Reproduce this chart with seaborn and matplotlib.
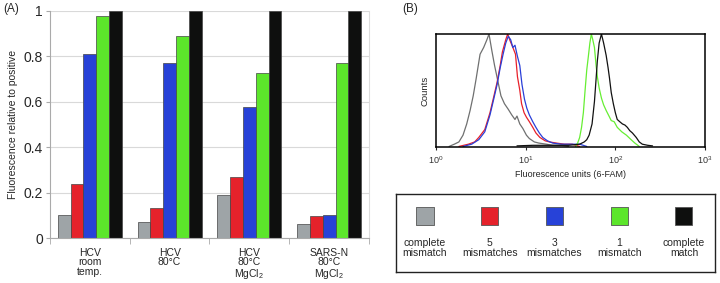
import pandas as pd
import seaborn as sns
import matplotlib.pyplot as plt

# datos del panel A
conditions = ['HCV\nroom\ntemp.', 'HCV\n80°C', 'HCV\n80°C\nMgCl$_2$', 'SARS-N\n80°C\nMgCl$_2$']
probes = ['complete\nmismatch', '5\nmismatches', '3\nmismatches', '1\nmismatch', 'complete\nmatch']
colors = ['#9ea4a7', '#e5222b', '#2742d8', '#5ce62b', '#0e0f0e']
complete_mismatch = [0.10, 0.07, 0.19, 0.06]
mismatches_5 = [0.24, 0.13, 0.27, 0.095]
mismatches_3 = [0.81, 0.77, 0.575, 0.10]
mismatch_1 = [0.98, 0.89, 0.725, 0.77]
complete_match = [1.0, 1.0, 1.0, 1.0]

# datos del panel B (histogramas, cuentas normalizadas al pico)
gray_x = [1.4, 1.6, 1.8, 2.0, 2.2, 2.4, 2.6, 2.8, 3.1, 3.4, 3.7, 3.9, 4.2, 4.5, 4.9, 5.3, 5.8,
          6.4, 7.0, 7.6, 8.0, 8.6, 9.3, 10.2, 11, 12.5, 14, 17, 20, 25, 30]
gray_y = [0.0, 0.02, 0.04, 0.1, 0.2, 0.32, 0.45, 0.6, 0.82, 0.88, 0.95, 1.0, 0.85, 0.72, 0.58, 0.45, 0.38,
          0.33, 0.28, 0.24, 0.27, 0.2, 0.16, 0.1, 0.07, 0.04, 0.03, 0.02, 0.01, 0.01, 0.0]
red_x = [1.8, 2.3, 2.7, 3.0, 3.5, 4.0, 4.4, 4.8, 5.2, 5.5, 6.0, 6.3, 6.7, 7.2, 7.7, 8.1, 8.6, 9.0,
         9.6, 10.2, 11, 12, 13, 14.4, 16.5, 18.5, 22, 27, 33, 40]
red_y = [0.0, 0.02, 0.04, 0.08, 0.15, 0.3, 0.44, 0.57, 0.72, 0.84, 0.95, 1.0, 0.94, 0.88, 0.82, 0.62, 0.5, 0.38,
         0.3, 0.26, 0.22, 0.17, 0.12, 0.08, 0.05, 0.04, 0.03, 0.02, 0.02, 0.0]
blue_x = [2.0, 2.5, 3.0, 3.5, 4.0, 4.4, 4.8, 5.2, 5.6, 6.0, 6.4, 6.8, 7.2, 7.6, 8.1, 8.6, 9.1, 9.7,
          10.3, 11, 12, 13, 14.2, 15.5, 17.5, 20, 25, 32, 40, 48]
blue_y = [0.0, 0.02, 0.06, 0.13, 0.28, 0.42, 0.55, 0.7, 0.82, 0.92, 0.98, 0.95, 0.88, 0.9, 0.8, 0.72, 0.55, 0.42,
          0.34, 0.28, 0.22, 0.17, 0.12, 0.08, 0.05, 0.03, 0.02, 0.02, 0.02, 0.0]
green_x = [36, 38, 40, 42, 44, 46, 48, 50, 52, 54, 56, 58.5, 61, 63, 66, 70, 74, 79, 85, 90, 97,
           105, 118, 133, 150, 165, 185]
green_y = [0.0, 0.03, 0.08, 0.17, 0.3, 0.5, 0.68, 0.8, 0.92, 1.0, 0.95, 0.88, 0.72, 0.62, 0.52, 0.43, 0.37,
           0.32, 0.27, 0.23, 0.22, 0.17, 0.13, 0.1, 0.06, 0.03, 0.0]
black_x = [8, 12, 20, 30, 40, 45, 48, 51, 55, 58.5, 61, 63, 66, 70, 74, 79, 83, 86, 90, 95, 100,
           105, 112, 120, 128, 136, 145, 155, 171, 185, 200, 230, 260]
black_y = [0.005, 0.01, 0.01, 0.01, 0.02, 0.04, 0.06, 0.1, 0.2, 0.4, 0.6, 0.76, 0.92, 1.0, 0.92, 0.81, 0.7,
           0.61, 0.48, 0.38, 0.3, 0.24, 0.22, 0.2, 0.19, 0.17, 0.14, 0.12, 0.08, 0.04, 0.02, 0.01, 0.005]
line_colors = ['#6f7070', '#e8202a', '#2a3fd8', '#66ee33', '#111111']

sns.set_style('white')
plt.rcParams['font.family'] = ['Liberation Sans', 'DejaVu Sans']
plt.rcParams['mathtext.fontset'] = 'custom'
plt.rcParams['mathtext.rm'] = 'Liberation Sans'
plt.rcParams['mathtext.it'] = 'Liberation Sans:italic'

fig = plt.figure(figsize=(7.2, 2.83), dpi=100)

# ---- panel A ----
df = pd.DataFrame({
    'condition': conditions * 5,
    'probe': [p for p in probes for _ in conditions],
    'value': complete_mismatch + mismatches_5 + mismatches_3 + mismatch_1 + complete_match,
})
axA = fig.add_axes([50 / 720, 45 / 283, 319 / 720, 227 / 283])
axA.set_axisbelow(True)
axA.yaxis.grid(True, color='#d9d9d9', lw=0.8)
sns.barplot(data=df, x='condition', y='value', hue='probe', hue_order=probes, order=conditions,
            palette=colors, saturation=1, width=0.8, edgecolor='#444444', linewidth=0.5,
            legend=False, ax=axA)
axA.set_xlim(-0.5, 3.5)
axA.set_ylim(0, 1)
axA.set_yticks([0, 0.2, 0.4, 0.6, 0.8, 1.0])
axA.set_yticklabels(['0', '0.2', '0.4', '0.6', '0.8', '1'], fontsize=10)
axA.tick_params(axis='y', length=3, color='#aaaaaa', pad=2, left=True)
axA.tick_params(axis='x', length=0, labelsize=7.5, pad=7)
for lbl in axA.get_xticklabels():
    lbl.set_linespacing(0.95)
axA.set_xticks([-0.5, 0.5, 1.5, 2.5, 3.5], minor=True)
axA.tick_params(axis='x', which='minor', length=4, color='#aaaaaa', bottom=True)
axA.set_xlabel('')
axA.set_ylabel('Fluorescence relative to positive', fontsize=7.5, labelpad=4)
for s in axA.spines.values():
    s.set_color('#dcdcdc')
    s.set_linewidth(0.8)
axA.spines['left'].set_color('#aaaaaa')
axA.spines['bottom'].set_color('#aaaaaa')
axA.spines['top'].set_visible(False)

fig.text(3 / 720, 1 - 9 / 283, '(A)', fontsize=8.5, va='center')
fig.text(402 / 720, 1 - 9 / 283, '(B)', fontsize=8.5, va='center')

# ---- panel B ----
axB = fig.add_axes([436 / 720, 136 / 283, 269 / 720, 113 / 283])
curves = [(gray_x, gray_y), (red_x, red_y), (blue_x, blue_y), (green_x, green_y), (black_x, black_y)]
axB.set_xscale('log')
for (cx, cy), c in zip(curves, line_colors):
    sns.lineplot(x=cx, y=cy, color=c, lw=0.9, ax=axB)
axB.set_xlim(1, 1000)
axB.set_ylim(-0.005, 1.0)
axB.set_xticks([1, 10, 100, 1000])
axB.set_xticklabels(['$10^0$', '$10^1$', '$10^2$', '$10^3$'], fontsize=6.5, color='#333333')
axB.minorticks_off()
axB.tick_params(axis='x', length=2, pad=3, bottom=True)
axB.set_yticks([])
axB.set_ylabel('Counts', fontsize=6.8, labelpad=5)
axB.set_xlabel('Fluorescence units (6-FAM)', fontsize=6.5, labelpad=3)
for s in axB.spines.values():
    s.set_color('black')
    s.set_linewidth(1.1)

# ---- leyenda ----
axL = fig.add_axes([396 / 720, 11 / 283, 319 / 720, 78 / 283])
axL.scatter(range(len(probes)), [56] * len(probes), marker='s', s=150, c=colors,
            edgecolors='#555555', linewidths=0.6)
for i, p in enumerate(probes):
    axL.text(i, 24, p, ha='center', va='center', fontsize=7.5, linespacing=1.1)
axL.set_xlim(-0.448, 4.48)
axL.set_ylim(0, 78)
axL.set_xticks([])
axL.set_yticks([])
for s in axL.spines.values():
    s.set_color('#222222')
    s.set_linewidth(1.0)

fig.savefig('out.png', dpi=100)
